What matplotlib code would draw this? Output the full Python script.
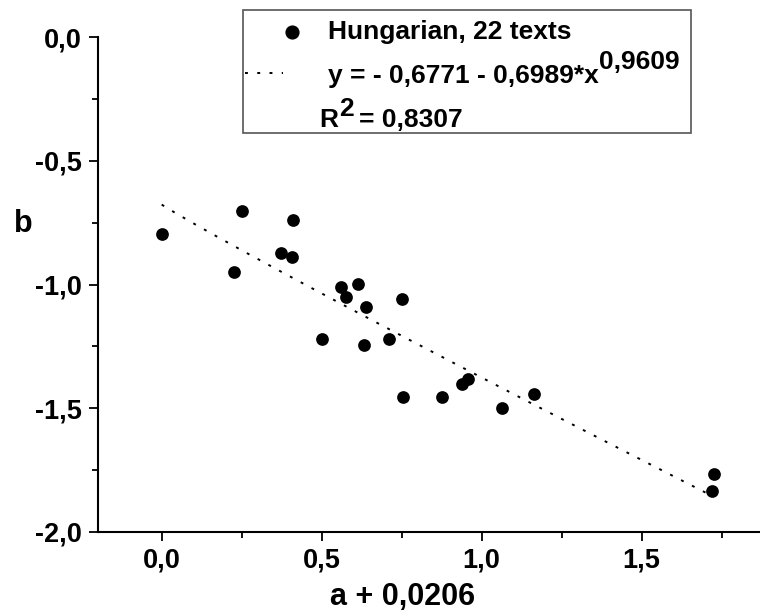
import matplotlib
matplotlib.use("Agg")
import matplotlib.pyplot as plt
import numpy as np
from matplotlib.lines import Line2D
from matplotlib.patches import Rectangle
from matplotlib.ticker import MultipleLocator, FuncFormatter

# Hungarian texts: a + 0,0206 vs b
a_shift = [0.000, 0.227, 0.252, 0.372, 0.407, 0.410, 0.500, 0.561,
           0.575, 0.613, 0.633, 0.638, 0.711, 0.751, 0.753, 0.876, 0.938,
           0.958, 1.064, 1.164, 1.719, 1.725]
b_vals = [-0.797, -0.948, -0.703, -0.874, -0.888, -0.739, -1.220, -1.009,
          -1.052, -0.999, -1.244, -1.090, -1.222, -1.060, -1.453,
          -1.453, -1.403, -1.382, -1.498, -1.444, -1.834, -1.767]

# power-law fit as printed in the legend
fit_c, fit_k, fit_p = -0.6771, -0.6989, 0.9609
fit_xmax = 1.70

W, H = 760, 614
plt.rcParams["font.family"] = ["Liberation Sans", "DejaVu Sans"]
plt.rcParams["font.weight"] = "bold"

fig = plt.figure(figsize=(W / 100, H / 100), dpi=100)
ax = fig.add_axes([97.7 / W, 82 / H, 1 - 97.7 / W, 495 / H])

DOTS = (1.5, 4.8)
ax.scatter(a_shift, b_vals, s=84, color="black", zorder=3, linewidths=0)
xf = np.linspace(0, fit_xmax, 200)
ax.plot(xf, fit_c + fit_k * xf ** fit_p, color="black", lw=1.4,
        dashes=DOTS, zorder=2)

ax.set_xlim(-0.2, 1.87)
ax.set_ylim(-2.0, 0.0)
ax.xaxis.set_major_locator(MultipleLocator(0.5))
ax.xaxis.set_minor_locator(MultipleLocator(0.25))
ax.yaxis.set_major_locator(MultipleLocator(0.5))
ax.yaxis.set_minor_locator(MultipleLocator(0.25))
comma = FuncFormatter(lambda v, _: f"{v:.1f}".replace(".", ","))
ax.xaxis.set_major_formatter(comma)
ax.yaxis.set_major_formatter(comma)
ax.tick_params(which="major", direction="out", length=6.5, width=1.3,
               labelsize=19.5, pad=5)
ax.tick_params(which="minor", direction="out", length=4, width=1.3)
for s in ("top", "right"):
    ax.spines[s].set_visible(False)
for s in ("left", "bottom"):
    ax.spines[s].set_linewidth(1.5)
for lab in ax.get_xticklabels() + ax.get_yticklabels():
    lab.set_fontweight("bold")

fig.text(403 / W, 1 - 597 / H, "a + 0,0206", ha="center", va="center",
         fontsize=22, fontweight="bold")
fig.text(23 / W, 1 - 224 / H, "b", ha="center", va="center",
         fontsize=22, fontweight="bold")

# legend box drawn by hand
fig.add_artist(Rectangle((242.7 / W, 1 - 132.7 / H), (691 - 242.7) / W,
                         (132.7 - 10) / H, transform=fig.transFigure,
                         fill=False, edgecolor="#555555", lw=1.2))
fig.add_artist(Line2D([291.7 / W], [1 - 32 / H], marker="o", markersize=9.2,
                      color="black", transform=fig.transFigure))
fig.add_artist(Line2D([245 / W, 283 / W], [1 - 73 / H, 1 - 73 / H],
                      color="black", lw=1.4, dashes=DOTS,
                      transform=fig.transFigure))

fs_leg = 19
fig.text(328 / W, 1 - 32 / H, "Hungarian, 22 texts", ha="left",
         va="center", fontsize=fs_leg, fontweight="bold")
eq = fig.text(328 / W, 1 - 76 / H, "y = - 0,6771 - 0,6989*x", ha="left",
              va="center", fontsize=fs_leg, fontweight="bold")
r2 = fig.text(319 / W, 1 - 120 / H, "R", ha="left", va="center",
              fontsize=fs_leg, fontweight="bold")
fig.canvas.draw()
r = fig.canvas.get_renderer()
bb = eq.get_window_extent(r)
fig.text(bb.x1 / W, 1 - 62 / H, "0,9609", ha="left", va="center",
         fontsize=fs_leg, fontweight="bold")
bb = r2.get_window_extent(r)
sup = fig.text(bb.x1 / W + 1 / W, 1 - 109 / H, "2", ha="left", va="center",
               fontsize=fs_leg, fontweight="bold")
bb = sup.get_window_extent(r)
fig.text(bb.x1 / W + 5 / W, 1 - 120 / H, "= 0,8307", ha="left", va="center",
         fontsize=fs_leg, fontweight="bold")

fig.savefig("out.png", dpi=100)
